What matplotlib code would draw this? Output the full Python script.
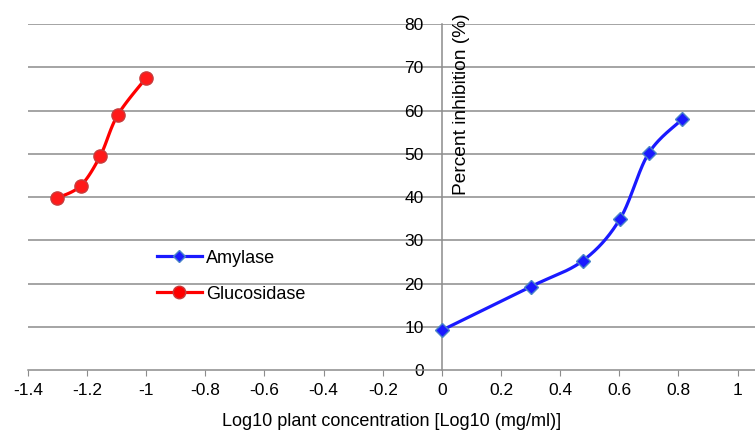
import numpy as np
import matplotlib
matplotlib.use('Agg')
import matplotlib.pyplot as plt

plt.rcParams['font.family'] = ['Liberation Sans', 'DejaVu Sans']

# values
amylase_x = [0.0, 0.301, 0.477, 0.602, 0.699, 0.813]
amylase_y = [9.2, 19.3, 25.3, 34.9, 50.1, 58.0]
gluco_x = [-1.301, -1.222, -1.155, -1.097, -1.0]
gluco_y = [39.8, 42.6, 49.6, 58.9, 67.6]

xticks = [-1.4, -1.2, -1.0, -0.8, -0.6, -0.4, -0.2, 0, 0.2, 0.4, 0.6, 0.8, 1.0]
xtick_labels = ['-1.4', '-1.2', '-1', '-0.8', '-0.6', '-0.4', '-0.2', '0',
                '0.2', '0.4', '0.6', '0.8', '1']
yticks = [0, 10, 20, 30, 40, 50, 60, 70, 80]


def smooth(xs, ys, n=30):
    # excel-like smoothed line: bezier segments with catmull-rom handles
    p = np.column_stack([xs, ys]).astype(float)
    out = [p[0]]
    t = np.linspace(0, 1, n)[1:, None]
    for i in range(len(p) - 1):
        p0 = p[i - 1] if i > 0 else p[i]
        p3 = p[i + 2] if i + 2 < len(p) else p[i + 1]
        c1 = p[i] + (p[i + 1] - p0) / 6
        c2 = p[i + 1] - (p3 - p[i]) / 6
        seg = ((1 - t) ** 3) * p[i] + 3 * ((1 - t) ** 2) * t * c1 \
            + 3 * (1 - t) * t ** 2 * c2 + t ** 3 * p[i + 1]
        out.extend(seg)
    out = np.array(out)
    return out[:, 0], out[:, 1]


fig = plt.figure(figsize=(7.55, 4.32), dpi=100)
ax = fig.add_axes([0.037, 0.1435, 0.963, 0.8005])

grid_c = '#8c8c8c'
for y in yticks[1:]:
    ax.axhline(y, color=grid_c, lw=1.1, zorder=1)

sx, sy = smooth(amylase_x, amylase_y)
ax.plot(sx, sy, color='#1a1aff', lw=2.3, zorder=3)
ax.plot(amylase_x, amylase_y, ls='none', marker='D', ms=7.5, color='#1a1aff',
        mec='#4a86c8', mew=1, zorder=4)
ax.plot([], [], color='#1a1aff', lw=2.3, marker='D', ms=6, mec='#4a86c8',
        label='Amylase')

sx, sy = smooth(gluco_x, gluco_y)
ax.plot(sx, sy, color='#ff0000', lw=2.3, zorder=3)
ax.plot(gluco_x, gluco_y, ls='none', marker='o', ms=9.5, color='#ff1a1a',
        mec='#c83c3c', mew=1, zorder=4)
ax.plot([], [], color='#ff0000', lw=2.3, marker='o', ms=9, mec='#c83c3c',
        label='Glucosidase')

ax.set_xlim(-1.4, 1.059)
ax.set_ylim(0, 80)

# axes crossing at x=0
for s in ['top', 'right']:
    ax.spines[s].set_visible(False)
ax.spines['left'].set_position(('data', 0))
ax.spines['left'].set_color(grid_c)
ax.spines['bottom'].set_color(grid_c)
ax.spines['left'].set_linewidth(1.1)
ax.spines['bottom'].set_linewidth(1.1)

ax.set_xticks(xticks)
ax.set_xticklabels(xtick_labels)
ax.set_yticks(yticks)
ax.tick_params(axis='x', direction='out', length=4, color=grid_c, labelsize=12.5, pad=5)
ax.tick_params(axis='y', length=0, labelsize=12.5, pad=13)

ax.set_xlabel('Log10 plant concentration [Log10 (mg/ml)]', fontsize=13, labelpad=11)
ax.text(0.065, 82.6, 'Percent inhibition (%)', rotation=90, ha='center', va='top',
        fontsize=13.8, clip_on=False)

leg = ax.legend(loc='upper left', bbox_to_anchor=(0.155, 0.395), frameon=False,
                fontsize=13, handlelength=2.5, labelspacing=1.05, handletextpad=0.2)

fig.savefig('out.png', dpi=100)
